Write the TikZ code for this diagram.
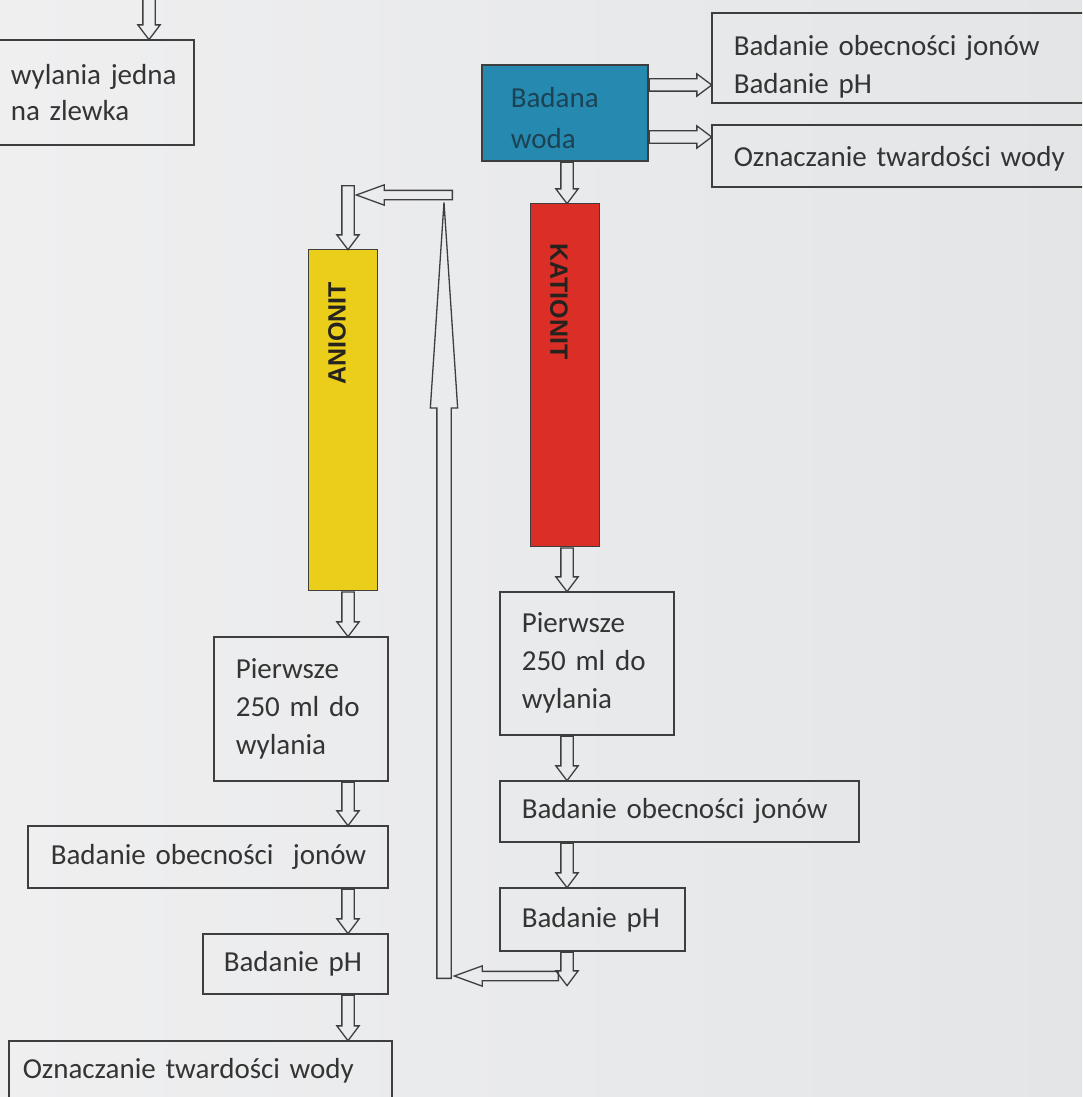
\documentclass[tikz,border=0pt]{standalone}
\usepackage{fontspec}
\setmainfont{Carlito}
\newfontfamily\colfont{Liberation Sans}
\usetikzlibrary{shapes.arrows,calc}
\definecolor{bgA}{RGB}{239,239,240}
\definecolor{bgB}{RGB}{227,229,231}
\definecolor{ink}{RGB}{52,52,52}
\definecolor{edge}{RGB}{62,62,62}
\definecolor{wteal}{RGB}{38,138,176}
\definecolor{wtealtxt}{RGB}{28,66,84}
\definecolor{kred}{RGB}{218,46,38}
\definecolor{ayel}{RGB}{234,206,26}
\definecolor{colink}{RGB}{38,34,30}
\tikzset{
  box/.style={draw=edge, line width=1.6pt, anchor=north west, align=left, inner ysep=0pt, text=ink, font=\fontsize{29}{38}\selectfont},
  colbox/.style={draw=edge, line width=1.4pt, anchor=north west, inner sep=0pt},
  coltext/.style={inner sep=0pt, text=colink, font=\colfont\bfseries\fontsize{25}{30}\selectfont},
  blk/.style={single arrow, draw=edge, line width=1.3pt, inner xsep=0pt, minimum width=0pt, single arrow head indent=0pt, anchor=tail},
  stdarr/.style={blk, inner ysep=5.5pt, single arrow head extend=5pt, single arrow tip angle=74},
  thinarr/.style={blk, inner ysep=4pt, single arrow head extend=5.5pt, single arrow tip angle=40},
  tallarr/.style={blk, inner ysep=6.5pt, single arrow head extend=6.5pt, single arrow tip angle=7.6},
}
\newcommand\blockarrow[3][stdarr]{%
  \path let \p1=#2, \p2=#3, \n1={veclen(\x2-\x1,\y2-\y1)}, \n2={atan2(\y2-\y1,\x2-\x1)} in
    node[#1, minimum height=\n1, rotate=\n2] at (\p1) {};}
\begin{document}
\begin{tikzpicture}[x=1pt,y=-1pt]
\useasboundingbox (0,0) rectangle (1082,1097);
\clip (0,0) rectangle (1082,1097);
\shade[left color=bgA, right color=bgB] (0,0) rectangle (1082,1097);

% boxes
\node[box, font=\fontsize{29}{36}\selectfont, minimum width=223pt, minimum height=105pt, inner xsep=40pt, text width=143pt] (tl) at (-30,39) {\mbox{wylania jedna}\\\mbox{na zlewka}};
\node[box, fill=wteal, text=wtealtxt, font=\fontsize{29}{41}\selectfont, minimum width=166pt, minimum height=96pt, inner xsep=29pt, text width=108pt] (bw) at (481,64) {\rule{0pt}{30pt}Badana\\woda};
\node[box, minimum width=400pt, minimum height=90pt, inner xsep=22pt, text width=356pt] (r1) at (711,12) {\rule{0pt}{38pt}Badanie obecności jonów\\Badanie pH};
\node[box, minimum width=400pt, minimum height=62pt, inner xsep=22pt, text width=356pt] (r2) at (711,124) {\rule{0pt}{26pt}Oznaczanie twardości wody};

\node[colbox, fill=kred, minimum width=69pt, minimum height=343pt] (kat) at (530,203) {};
\node[coltext, rotate=-90, anchor=west] (katt) at (559,243) {KATIONIT};
\node[colbox, fill=ayel, minimum width=69pt, minimum height=341pt] (an) at (308,249) {};
\node[coltext, rotate=90, anchor=east] (ant) at (337,282) {ANIONIT};

\node[box, minimum width=174pt, minimum height=143pt, inner xsep=22pt, text width=130pt] (p1r) at (499,591) {Pierwsze\\250 ml do\\wylania};
\node[box, minimum width=359pt, minimum height=61pt, inner xsep=22pt, text width=315pt] (obr) at (499,780) {Badanie obecności jonów};
\node[box, minimum width=185pt, minimum height=63pt, inner xsep=22pt, text width=141pt] (phr) at (499,887) {Badanie pH};

\node[box, minimum width=174pt, minimum height=144pt, inner xsep=22pt, text width=130pt] (p1l) at (213,636) {Pierwsze\\250 ml do\\wylania};
\node[box, minimum width=360pt, minimum height=62pt, inner xsep=23pt, text width=314pt] (obl) at (27,825) {\mbox{Badanie obecności\ \ jonów}};
\node[box, minimum width=185pt, minimum height=60pt, inner xsep=21pt, text width=143pt] (phl) at (202,933) {Badanie pH};
\node[box, minimum width=383pt, minimum height=60pt, inner xsep=14pt, text width=355pt] (ozl) at (8,1040) {\mbox{Oznaczanie twardości wody}};

% coordinates
\coordinate (colR) at (567,0);
\coordinate (colL) at (348,0);
\coordinate (tin) at (149,-10);
\coordinate (b1) at (bw.east |- 0,85);
\coordinate (b2) at (bw.east |- 0,137);
\coordinate (hend) at (567,985);
\coordinate (ret0) at (559,976);
\coordinate (ret1) at (455,976);
\coordinate (up0) at (444,979);
\coordinate (up1) at (444,203);
\coordinate (top0) at (453,195);
\coordinate (top1) at (357,195);
\coordinate (down0) at (348,185);

% arrows
\blockarrow{(tin)}{(tl.north -| tin)}
\blockarrow{(b1)}{(r1.west |- b1)}
\blockarrow{(b2)}{(r2.west |- b2)}
\blockarrow{(bw.south -| colR)}{(kat.north -| colR)}
\blockarrow{(kat.south -| colR)}{(p1r.north -| colR)}
\blockarrow{(p1r.south -| colR)}{(obr.north -| colR)}
\blockarrow{(obr.south -| colR)}{(phr.north -| colR)}
\blockarrow{(phr.south -| colR)}{(hend)}
\blockarrow[thinarr]{(ret0)}{(ret1)}
\blockarrow[tallarr]{(up0)}{(up1)}
\blockarrow[thinarr]{(top0)}{(top1)}
\blockarrow{(down0)}{(an.north -| colL)}
\blockarrow{(an.south -| colL)}{(p1l.north -| colL)}
\blockarrow{(p1l.south -| colL)}{(obl.north -| colL)}
\blockarrow{(obl.south -| colL)}{(phl.north -| colL)}
\blockarrow{(phl.south -| colL)}{(ozl.north -| colL)}
\end{tikzpicture}
\end{document}
